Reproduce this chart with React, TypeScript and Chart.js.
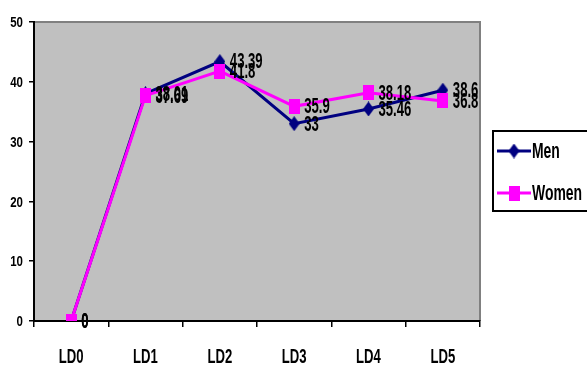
import React, { useEffect, useRef } from "react";
import { Chart, registerables } from "chart.js";

Chart.register(...registerables);

const categories = ["LD0", "LD1", "LD2", "LD3", "LD4", "LD5"];
const menValues = [0, 38.01, 43.39, 33, 35.46, 38.6];
const womenValues = [0, 37.69, 41.8, 35.9, 38.18, 36.8];
const yTicks = [0, 10, 20, 30, 40, 50];

const NAVY = "#000080";
const MAGENTA = "#FF00FF";
const PLOT_BG = "#C0C0C0";
const FONT = '"Liberation Sans", Arial, sans-serif';
const NARROW = 0.82;

// bold condensed text, optionally stretched vertically
function drawText(
  ctx: CanvasRenderingContext2D,
  text: string,
  x: number,
  y: number,
  size: number,
  align: CanvasTextAlign,
  sy: number
) {
  ctx.save();
  ctx.font = `bold ${size}px ${FONT}`;
  ctx.fillStyle = "#000";
  ctx.textAlign = align;
  ctx.textBaseline = "middle";
  ctx.translate(x, y);
  ctx.scale(NARROW, sy);
  ctx.fillText(text, 0, 0);
  ctx.restore();
}

function markerCanvas(shape: "diamond" | "square", color: string) {
  const w = 11;
  const h = 15;
  const c = document.createElement("canvas");
  c.width = w;
  c.height = h;
  const g = c.getContext("2d")!;
  g.fillStyle = color;
  if (shape === "diamond") {
    g.beginPath();
    g.moveTo(w / 2, 0);
    g.lineTo(w, h / 2);
    g.lineTo(w / 2, h);
    g.lineTo(0, h / 2);
    g.closePath();
    g.fill();
  } else {
    g.fillRect(0, 0, w, h);
  }
  return c;
}

function makeFramePlugin(menMarker: HTMLCanvasElement, womenMarker: HTMLCanvasElement) {
  return {
    id: "plotFrame",
    beforeDraw(chart: any) {
      const { ctx, chartArea: a } = chart;
      ctx.save();
      ctx.fillStyle = PLOT_BG;
      ctx.fillRect(a.left, a.top, a.right - a.left, a.bottom - a.top);
      ctx.strokeStyle = "#808080";
      ctx.lineWidth = 2;
      ctx.beginPath();
      ctx.moveTo(a.left, a.top);
      ctx.lineTo(a.right, a.top);
      ctx.lineTo(a.right, a.bottom);
      ctx.stroke();
      ctx.restore();
    },
    afterDraw(chart: any) {
      const { ctx } = chart;
      const xs = chart.scales.x;
      const ys = chart.scales.y;
      const a = chart.chartArea;
      // value axis labels
      yTicks.forEach((v) => {
        drawText(ctx, String(v), a.left - 11, ys.getPixelForValue(v) + 1, 14, "right", 1.1);
      });
      // category labels
      categories.forEach((c, i) => {
        drawText(ctx, c, xs.getPixelForValue(i), a.bottom + 36, 16, "center", 1.25);
      });
      // value labels
      [0, 1].forEach((di) => {
        const meta = chart.getDatasetMeta(di);
        const vals = chart.data.datasets[di].data as number[];
        meta.data.forEach((pt: any, i: number) => {
          drawText(ctx, String(vals[i]), pt.x + 10, pt.y + 1, 16, "left", 1.35);
        });
      });
      // legend
      ctx.save();
      ctx.strokeStyle = "#000";
      ctx.lineWidth = 2;
      ctx.strokeRect(493, 131, 100, 80);
      ctx.restore();
      const items = [
        { label: "Men", color: NAVY, y: 151, marker: menMarker },
        { label: "Women", color: MAGENTA, y: 193, marker: womenMarker },
      ];
      items.forEach((it) => {
        ctx.save();
        ctx.strokeStyle = it.color;
        ctx.lineWidth = 3;
        ctx.beginPath();
        ctx.moveTo(497, it.y);
        ctx.lineTo(531, it.y);
        ctx.stroke();
        ctx.drawImage(it.marker, 514 - it.marker.width / 2, it.y - it.marker.height / 2);
        ctx.restore();
        drawText(ctx, it.label, 532, it.y + 1, 17, "left", 1.25);
      });
    },
  };
}

export default function App() {
  const ref = useRef<HTMLCanvasElement | null>(null);

  useEffect(() => {
    document.body.style.margin = "0";
    const canvas = ref.current!;
    const menMarker = markerCanvas("diamond", NAVY);
    const womenMarker = markerCanvas("square", MAGENTA);
    const chart = new Chart(canvas, {
      type: "line",
      data: {
        labels: categories,
        datasets: [
          {
            label: "Men",
            data: menValues,
            borderColor: NAVY,
            backgroundColor: NAVY,
            borderWidth: 3,
            pointStyle: menMarker,
            pointRadius: 6,
            tension: 0,
            order: 1,
          },
          {
            label: "Women",
            data: womenValues,
            borderColor: MAGENTA,
            backgroundColor: MAGENTA,
            borderWidth: 3,
            pointStyle: womenMarker,
            pointRadius: 6,
            tension: 0,
            order: 0,
          },
        ],
      },
      options: {
        responsive: false,
        animation: false,
        layout: { padding: { top: 22, right: 107, left: 0, bottom: 0 } },
        plugins: { legend: { display: false }, tooltip: { enabled: false } },
        scales: {
          x: {
            type: "category",
            offset: true,
            grid: { offset: true, drawOnChartArea: false, drawTicks: true, tickLength: 6, color: "#000", lineWidth: 1.5 },
            border: { color: "#000", width: 2 },
            ticks: { display: false },
            afterFit: (s: any) => { s.height = 46; },
          },
          y: {
            min: 0,
            max: 50,
            afterBuildTicks: (s: any) => { s.ticks = yTicks.map((v) => ({ value: v })); },
            grid: { drawOnChartArea: false, drawTicks: true, tickLength: 5, color: "#000", lineWidth: 1.5 },
            border: { color: "#000", width: 2 },
            ticks: { display: false },
            afterFit: (s: any) => { s.width = 34; },
          },
        },
      },
      plugins: [makeFramePlugin(menMarker, womenMarker)],
    });
    return () => chart.destroy();
  }, []);

  return <canvas ref={ref} width={587} height={367} style={{ display: "block" }} />;
}
